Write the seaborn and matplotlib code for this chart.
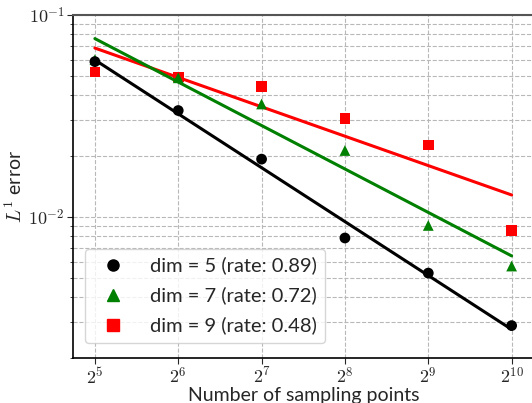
import numpy as np
import pandas as pd
import matplotlib
matplotlib.use("Agg")
import matplotlib.pyplot as plt
from matplotlib.lines import Line2D
import seaborn as sns

# data
n_points = [32, 64, 128, 256, 512, 1024]
err_dim5 = [0.0587, 0.0336, 0.0193, 0.00785, 0.00526, 0.00289]
err_dim7 = [0.0600, 0.0488, 0.0362, 0.0213, 0.00906, 0.0057]
err_dim9 = [0.0522, 0.0493, 0.0441, 0.0308, 0.0227, 0.00855]
dims = [5, 7, 9]
rates = [0.89, 0.72, 0.48]

sns.set_style("white")
plt.rcParams['mathtext.fontset'] = 'cm'
plt.rcParams['font.family'] = ['Lato', 'DejaVu Sans']

fig = plt.figure(figsize=(5.32, 4.03), dpi=100)
ax = fig.add_axes([0.137, 0.112, 0.867, 0.851])

series = {5: (err_dim5, 'black', 'o'), 7: (err_dim7, 'green', '^'), 9: (err_dim9, 'red', 's')}

# draw 9, 7, 5 so dim 5 ends up on top
for d in [9, 7, 5]:
    err, col, mk = series[d]
    df = pd.DataFrame({'n': n_points, 'err': err})
    # least squares fit in log-log
    p = np.polyfit(np.log(df['n']), np.log(df['err']), 1)
    df['fit'] = np.exp(np.polyval(p, np.log(df['n'])))
    sns.scatterplot(data=df, x='n', y='err', marker=mk, color=col, s=60,
                    edgecolor='none', ax=ax, zorder=3)
    sns.lineplot(data=df, x='n', y='fit', color=col, lw=2.2, ax=ax, zorder=3)

ax.set_xscale('log', base=2)
ax.set_yscale('log')
ax.set_xlim(2**4.736, 2**10.27)
ax.set_ylim(0.002, 0.1)
ax.set_xticks(n_points)
ax.set_xticklabels([r'$2^{%d}$' % k for k in range(5, 11)])
ax.set_yticks([0.01, 0.1])
ax.set_yticklabels([r'$10^{-2}$', r'$10^{-1}$'])

ax.grid(True, which='major', ls='--', color='#b8b8b8', lw=0.8)
ax.grid(True, which='minor', axis='y', ls='--', color='#b8b8b8', lw=0.8)
ax.tick_params(axis='both', which='major', labelsize=13, length=4, left=True, bottom=True, pad=2)
ax.tick_params(axis='y', which='minor', length=2.5, left=True)
ax.tick_params(axis='x', which='minor', bottom=False)

for s in ['left', 'bottom']:
    ax.spines[s].set_color('black')
    ax.spines[s].set_linewidth(1.2)
ax.spines['top'].set_color('#555555')
ax.spines['top'].set_linewidth(1.5)
ax.spines['right'].set_visible(False)

ax.set_xlabel('Number of sampling points', fontsize=14, labelpad=0)
ax.set_ylabel(r'$L^1$ error', fontsize=14, labelpad=2)

handles = []
labels = []
for d, r in zip(dims, rates):
    err, col, mk = series[d]
    handles.append(Line2D([], [], ls='none', marker=mk, color=col, markersize=8))
    labels.append('dim = %d (rate: %.2f)' % (d, r))
ax.legend(handles, labels, loc='lower left', fontsize=14.5, frameon=True,
          fancybox=True, framealpha=0.8, edgecolor='#cccccc',
          bbox_to_anchor=(0.005, 0.015), handletextpad=0.8, labelspacing=0.6)

fig.savefig('out.png', dpi=100)
